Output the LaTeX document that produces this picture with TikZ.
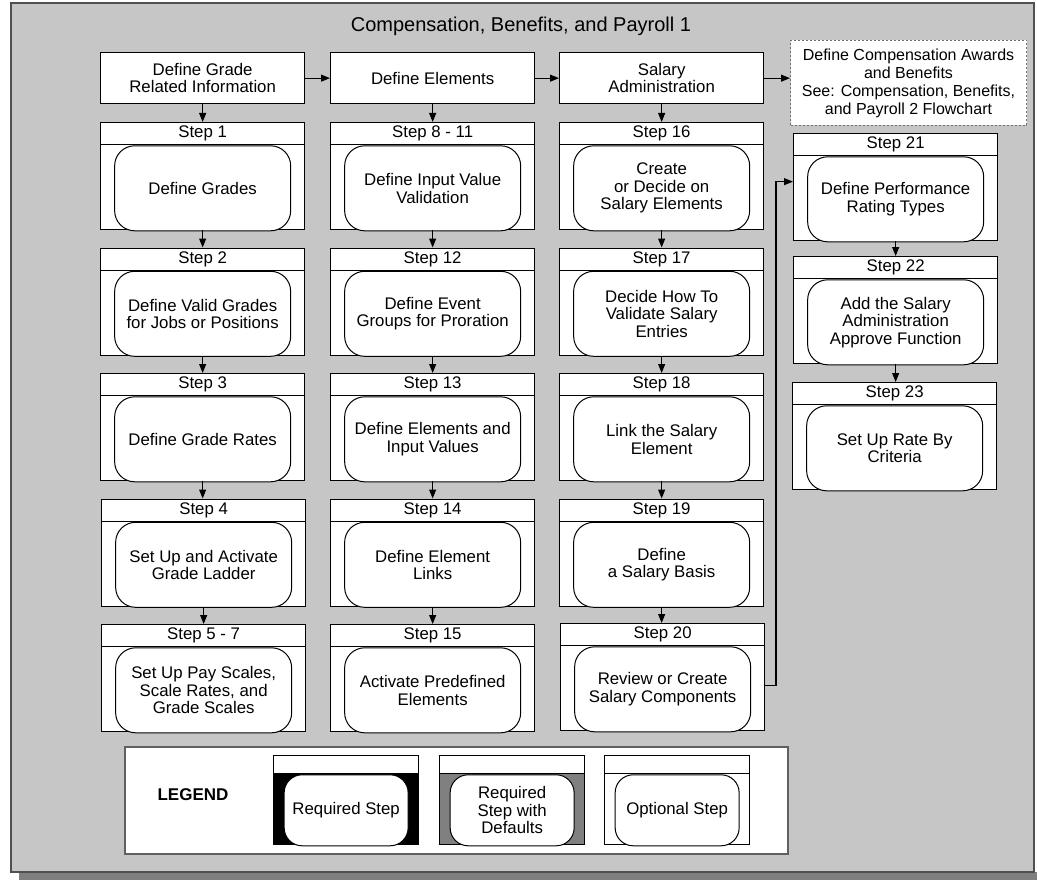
\documentclass[tikz,border=0pt]{standalone}
\usepackage{fontspec}
\setmainfont{Liberation Sans}
\usetikzlibrary{arrows.meta,calc}
\definecolor{panelgray}{HTML}{C6C6C6}
\definecolor{panelline}{HTML}{505050}
\definecolor{shadowgray}{HTML}{7F7F7F}
\definecolor{legline}{HTML}{606060}
\definecolor{defgray}{HTML}{808080}
\definecolor{dashline}{HTML}{707070}
\newcommand{\bodyfont}{\fontsize{16.8}{17.5}\selectfont}
\newcommand{\mkstep}[5]{%
  \node[stepouter] (#1) at (#2,#3) {};
  \node[stephead] (#1h) at (#2,#3) {#4};
  \node[stepinner] (#1i) at (#1h.south) {#5};
}
\newcommand{\mkleg}[4]{%
  \node[legouter, fill=#3] (#1) at (#2,755) {};
  \node[leghead] (#1h) at (#2,755) {};
  \node[leginner] (#1i) at (#1h.south) {#4};
}
\tikzset{
  panel/.style={draw=panelline, fill=panelgray, line width=2pt},
  hdrbox/.style={draw, fill=white, line width=1.3pt, minimum width=204pt, minimum height=51pt, inner sep=0pt, align=center, font=\bodyfont, anchor=north west},
  stepouter/.style={draw, fill=white, line width=1.3pt, minimum width=204pt, minimum height=107pt, inner sep=0pt, anchor=north west},
  stephead/.style={draw, line width=1.3pt, minimum width=204pt, minimum height=22pt, inner sep=0pt, anchor=north west, font=\bodyfont},
  stepinner/.style={draw, fill=white, line width=1pt, rounded corners=20pt, minimum width=176pt, minimum height=85pt, inner sep=0pt, anchor=north, align=center, font=\bodyfont},
  legouter/.style={draw, line width=1.3pt, minimum width=145pt, minimum height=89pt, inner sep=0pt, anchor=north west},
  leghead/.style={draw, fill=white, line width=1.3pt, minimum width=145pt, minimum height=18pt, inner sep=0pt, anchor=north west},
  leginner/.style={draw, fill=white, line width=1pt, rounded corners=18pt, minimum width=124pt, minimum height=71pt, inner sep=0pt, anchor=north, align=center, font=\bodyfont},
  dashbox/.style={draw=dashline, fill=white, line width=1pt, dash pattern=on 2pt off 2pt, minimum width=236pt, minimum height=85pt, inner sep=0pt, anchor=north west, align=center, font=\fontsize{16}{18}\selectfont},
  legbox/.style={draw=legline, fill=white, line width=1.5pt, minimum width=663pt, minimum height=107pt, inner sep=0pt, anchor=north west},
  arr/.style={draw, line width=1.1pt, -{Triangle[length=9pt,width=7pt]}},
}
\begin{document}
\begin{tikzpicture}[x=1pt,y=-1pt]
\useasboundingbox (0,0) rectangle (1037,880);
\fill[white] (0,0) rectangle (1037,880);
% shadow and panel
\fill[shadowgray] (19,872) rectangle (1037,880);
\draw[panel] (11,3) rectangle (1034,872);
\node[font=\fontsize{20}{22}\selectfont] (title) at (521,26) {Compensation, Benefits, and Payroll 1};
% column headers
\node[hdrbox] (h1) at (100,52) {Define Grade\\Related Information};
\node[hdrbox] (h2) at (330,52) {Define Elements};
\node[hdrbox] (h3) at (559,52) {Salary\\Administration};
\node[dashbox] (next) at (790,40) {Define Compensation Awards\\and Benefits\\See: Compensation, Benefits,\\and Payroll 2 Flowchart};
% column 1
\mkstep{s1}{100}{122}{Step 1}{Define Grades}
\mkstep{s2}{100}{247.5}{Step 2}{Define Valid Grades\\for Jobs or Positions}
\mkstep{s3}{100}{373}{Step 3}{Define Grade Rates}
\mkstep{s4}{101}{498.5}{Step 4}{Set Up and Activate\\Grade Ladder}
\mkstep{s5}{101}{624}{Step 5 - 7}{Set Up Pay Scales,\\Scale Rates, and\\Grade Scales}
% column 2
\mkstep{s8}{330}{122}{Step 8 - 11}{Define Input Value\\Validation}
\mkstep{s12}{330}{247.5}{Step 12}{Define Event\\Groups for Proration}
\mkstep{s13}{330}{373}{Step 13}{Define Elements and\\Input Values}
\mkstep{s14}{330}{498.5}{Step 14}{Define Element\\Links}
\mkstep{s15}{330}{624}{Step 15}{Activate Predefined\\Elements}
% column 3
\mkstep{s16}{559}{122}{Step 16}{Create\\or Decide on\\Salary Elements}
\mkstep{s17}{559}{247.5}{Step 17}{Decide How To\\Validate Salary\\Entries}
\mkstep{s18}{559}{373}{Step 18}{Link the Salary\\Element}
\mkstep{s19}{559}{498.5}{Step 19}{Define\\a Salary Basis}
\mkstep{s20}{560}{623}{Step 20}{Review or Create\\Salary Components}
% column 4
\mkstep{s21}{793}{133}{Step 21}{Define Performance\\Rating Types}
\mkstep{s22}{793}{256}{Step 22}{Add the Salary\\Administration\\Approve Function}
\mkstep{s23}{792}{382}{Step 23}{Set Up Rate By\\Criteria}
% connectors
\draw[arr] (h1) -- (h2);
\draw[arr] (h2) -- (h3);
\draw[arr] (h3.east) -- (h3.east -| next.west);
\draw[arr] (h1.south) -- (h1.south |- s1.north);
\draw[arr] (s1) -- (s2);
\draw[arr] (s2) -- (s3);
\draw[arr] (s3.south) -- (s3.south |- s4.north);
\draw[arr] (s4) -- (s5);
\draw[arr] (h2) -- (s8);
\draw[arr] (s8) -- (s12);
\draw[arr] (s12) -- (s13);
\draw[arr] (s13) -- (s14);
\draw[arr] (s14) -- (s15);
\draw[arr] (h3) -- (s16);
\draw[arr] (s16) -- (s17);
\draw[arr] (s17) -- (s18);
\draw[arr] (s18) -- (s19);
\draw[arr] (s19.south) -- (s19.south |- s20.north);
\draw[arr] (s21.south) -- (s21.south |- s22.north);
\draw[arr] (s22.south) -- (s22.south |- s23.north);
\coordinate (bend) at (776,400);
\draw[arr] ([yshift=-8.5pt]s20.east) -- ([yshift=-8.5pt]s20.east -| bend) |- ([yshift=5.5pt]s21.west);
% legend
\node[legbox] (legend) at (124,746) {};
\node[font=\fontsize{17}{19}\selectfont\bfseries] (legtitle) at (193,795) {LEGEND};
\mkleg{lreq}{273}{black}{Required Step}
\mkleg{ldef}{439}{defgray}{Required\\Step with\\Defaults}
\mkleg{lopt}{604}{white}{Optional Step}
\end{tikzpicture}
\end{document}
